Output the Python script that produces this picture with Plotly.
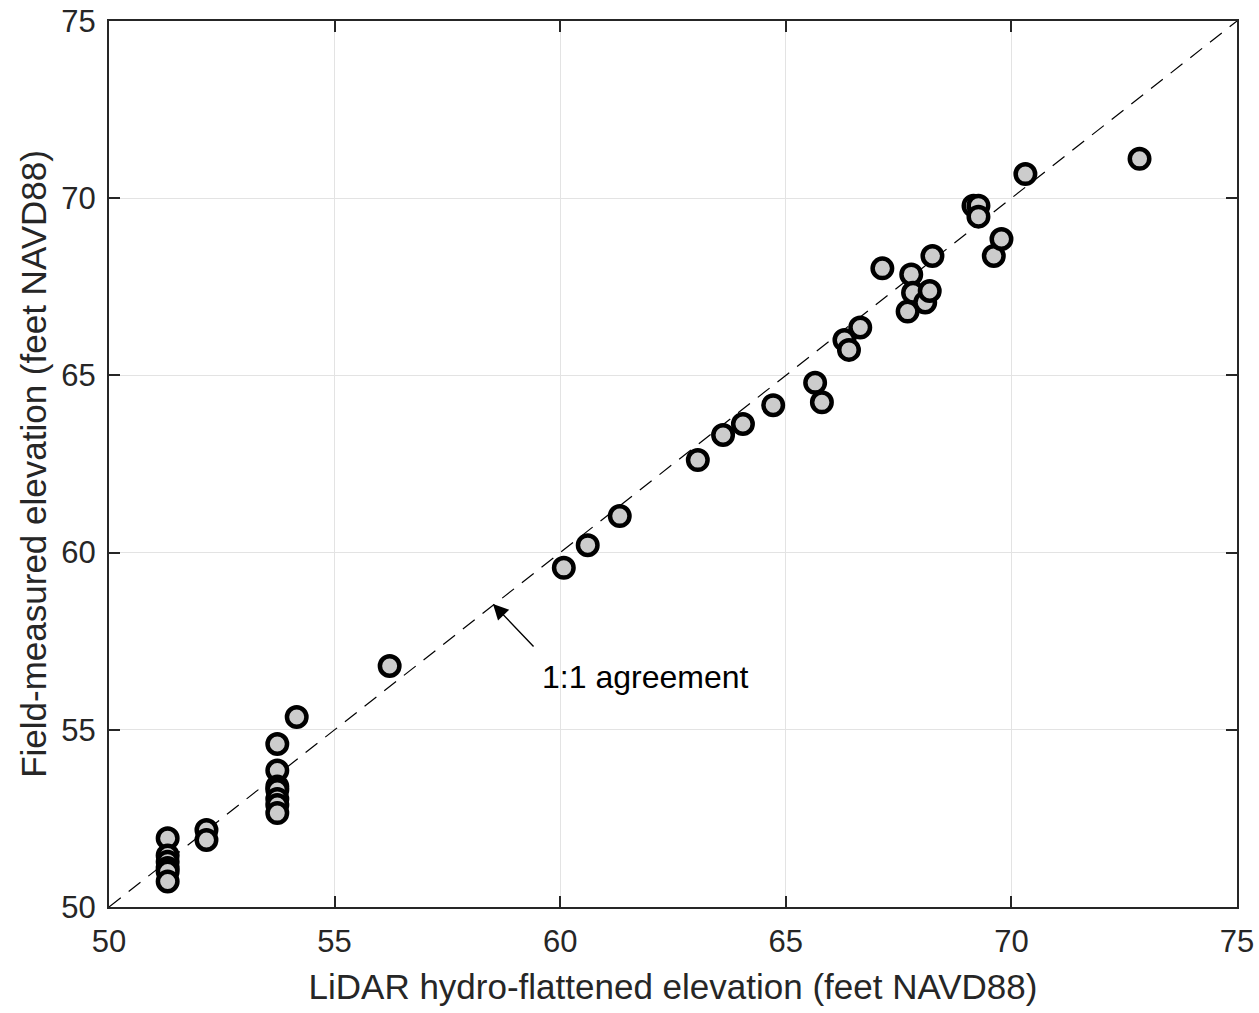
import plotly.graph_objects as go

# LiDAR hydro-flattened elevation (x) vs field-measured elevation (y), feet NAVD88
lidar = [51.30, 51.30, 51.30, 51.30, 51.30, 51.30,
         52.16, 52.16,
         53.73, 53.73, 53.73, 53.73, 53.73, 53.73, 53.73,
         54.16, 56.22, 60.08, 60.61, 61.32, 63.05, 63.61, 64.05, 64.72,
         65.65, 65.80, 66.30, 66.40, 66.65,
         67.14, 67.70, 67.78, 67.82, 68.09, 68.19, 68.25,
         69.16, 69.27, 69.27, 69.61, 69.78, 70.31, 72.84]
field = [51.94, 51.45, 51.28, 51.10, 51.00, 50.72,
         52.17, 51.89,
         54.60, 53.85, 53.40, 53.30, 53.05, 52.88, 52.65,
         55.36, 56.80, 59.57, 60.21, 61.03, 62.61, 63.32, 63.63, 64.16,
         64.79, 64.24, 66.00, 65.72, 66.35,
         68.02, 66.80, 67.85, 67.33, 67.06, 67.38, 68.37,
         69.79, 69.79, 69.48, 68.37, 68.85, 70.68, 71.11]

one_to_one = [50, 75]
ticks = [50, 55, 60, 65, 70, 75]
x_title = "LiDAR hydro-flattened elevation (feet NAVD88)"
y_title = "Field-measured elevation (feet NAVD88)"
note_text = "1:1 agreement"
arrow_tip = (58.51, 58.55)
note_pos = (61.88, 56.49)

FONT = "Liberation Sans, Arial, Helvetica, sans-serif"
TXT = "#262626"

fig = go.Figure()
fig.add_trace(go.Scatter(x=one_to_one, y=one_to_one, mode="lines",
                         line=dict(color="black", width=1.2, dash="15px,10px"),
                         hoverinfo="skip", showlegend=False))
fig.add_trace(go.Scatter(x=lidar, y=field, mode="markers",
                         marker=dict(size=19.5, color="#cccccc",
                                     line=dict(color="black", width=4.5)),
                         showlegend=False))

fig.add_annotation(x=arrow_tip[0], y=arrow_tip[1], xref="x", yref="y",
                   ax=42, ay=44, text="", showarrow=True,
                   arrowhead=2, arrowsize=2.2, arrowwidth=1.4, arrowcolor="black")
fig.add_annotation(x=note_pos[0], y=note_pos[1], xref="x", yref="y",
                   text=note_text, showarrow=False,
                   font=dict(family=FONT, size=32, color="black"))

axis_common = dict(range=[50, 75], tickvals=ticks, showgrid=True,
                   gridcolor="#e3e3e3", gridwidth=1, zeroline=False,
                   showline=True, linewidth=2, linecolor="#262626",
                   mirror="ticks", ticks="inside", ticklen=11, tickwidth=2,
                   tickcolor="#262626", automargin=False,
                   ticklabeloverflow="allow",
                   tickfont=dict(family=FONT, size=31, color=TXT))

fig.update_xaxes(**axis_common,
                 title=dict(text=x_title, font=dict(family=FONT, size=35, color=TXT),
                            standoff=16),
                 ticklabelstandoff=6)
fig.update_yaxes(**axis_common,
                 title=dict(text=y_title, font=dict(family=FONT, size=35, color=TXT),
                            standoff=4),
                 ticklabelstandoff=5)

fig.update_layout(width=1259, height=1013,
                  margin=dict(l=109, r=22, t=21, b=106, autoexpand=False),
                  paper_bgcolor="white", plot_bgcolor="white",
                  font=dict(family=FONT, color=TXT))

fig.write_html("out.html", config={"displayModeBar": False})

# remove the default page margin so the figure fills the window exactly
with open("out.html", "r", encoding="utf-8") as f:
    html = f.read()
html = html.replace("<head>", "<head><style>html,body{margin:0;padding:0;overflow:hidden;}</style>", 1)
with open("out.html", "w", encoding="utf-8") as f:
    f.write(html)
